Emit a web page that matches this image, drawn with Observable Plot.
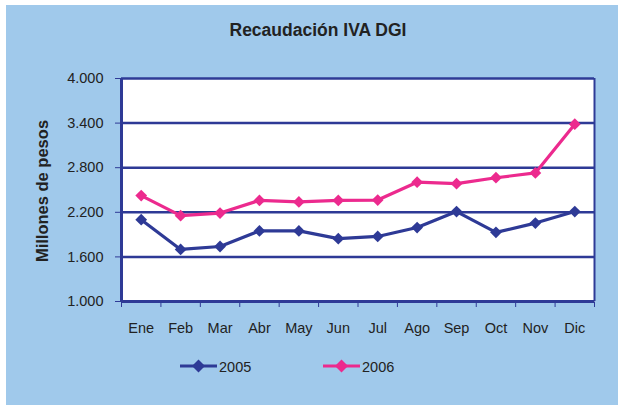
<!DOCTYPE html>
<html>
<head>
<meta charset="utf-8">
<script src="https://cdn.jsdelivr.net/npm/d3@7"></script>
<script src="https://cdn.jsdelivr.net/npm/@observablehq/plot@0.6"></script>
<style>
  html, body { margin: 0; padding: 0; background: #fff; }
  #wrap { position: relative; width: 618px; height: 405px; background: #fff; overflow: hidden; font-family: "Liberation Sans", Arial, sans-serif; }
  #bg { position: absolute; left: 6px; top: 5px; right: 0; bottom: 0; background: #A0C9EB; }
  #title { position: absolute; left: 0; width: 636px; top: 20px; text-align: center; font-weight: bold; font-size: 17.5px; color: #222; }
  #ylabel { position: absolute; left: 42px; top: 191px; transform: translate(-50%, -50%) rotate(-90deg); white-space: nowrap; font-weight: bold; font-size: 16.5px; color: #222; }
  #chart { position: absolute; left: 0; top: 0; }
  #chart svg text { fill: #222; }
  #legend { position: absolute; top: 356px; left: 0; width: 618px; height: 22px; font-size: 14.5px; color: #222; }
  .item { position: absolute; top: 0; display: flex; align-items: center; }
  .item span { margin-left: 2px; }
</style>
</head>
<body>
<div id="wrap">
  <div id="bg"></div>
  <div id="title">Recaudación IVA DGI</div>
  <div id="chart"></div>
  <div id="ylabel">Millones de pesos</div>
  <div id="legend"></div>
</div>
<script>
const months = ["Ene","Feb","Mar","Abr","May","Jun","Jul","Ago","Sep","Oct","Nov","Dic"];
const series2005 = [2100, 1700, 1740, 1950, 1950, 1845, 1875, 1995, 2210, 1930, 2055, 2210];
const series2006 = [2425, 2155, 2190, 2360, 2340, 2360, 2365, 2605, 2585, 2665, 2730, 3385];
const yTicks = [1000, 1600, 2200, 2800, 3400, 4000];
const seriesNames = ["2005", "2006"];
const colors = ["#2E3A96", "#EC2A8E"];

const data = [];
months.forEach((m, i) => {
  data.push({i, month: m, serie: "2005", value: series2005[i]});
  data.push({i, month: m, serie: "2006", value: series2006[i]});
});
const boundaries = d3.range(months.length + 1).map(k => k - 0.5);
const fmt = d3.formatLocale({decimal: ",", thousands: ".", grouping: [3], currency: ["", ""]}).format(",");
const navy = colors[0];

const chart = Plot.plot({
  width: 618,
  height: 345,
  marginTop: 78,
  marginBottom: 44,
  marginLeft: 121,
  marginRight: 24,
  style: {background: "transparent", color: navy, fontFamily: "'Liberation Sans', Arial, sans-serif", fontSize: "14.5px"},
  x: {type: "linear", domain: [-0.5, 11.5], ticks: boundaries, tickFormat: () => "", tickSize: 6, label: null},
  y: {domain: [1000, 4000], ticks: yTicks, tickFormat: fmt, tickSize: 6, tickPadding: 12, label: null},
  color: {domain: seriesNames, range: colors},
  marks: [
    Plot.frame({fill: "white", stroke: "#8088C0", strokeWidth: 1}),
    Plot.ruleY(yTicks.slice(1), {stroke: navy, strokeWidth: 2.5}),
    Plot.ruleX([11.5], {stroke: navy, strokeWidth: 2}),
    Plot.ruleX([-0.5], {stroke: navy, strokeWidth: 3}),
    Plot.ruleY([1000], {stroke: navy, strokeWidth: 3}),
    Plot.text(months, {x: (d, i) => i, y: () => 1000, text: d => d, dy: 27, fontSize: 14.5}),
    Plot.line(data, {x: "i", y: "value", z: "serie", stroke: "serie", strokeWidth: 3.2}),
    Plot.dot(data, {x: "i", y: "value", fill: "serie", symbol: "diamond2", r: 5.3})
  ]
});
document.getElementById("chart").appendChild(chart);

// Legend
const legend = document.getElementById("legend");
const legendX = [180, 323];
seriesNames.forEach((name, k) => {
  const item = document.createElement("div");
  item.className = "item";
  item.style.left = legendX[k] + "px";
  item.innerHTML = `<svg width="37" height="22"><line x1="0" y1="10" x2="37" y2="10" stroke="${colors[k]}" stroke-width="3"/><path d="M18.5,3.5 L25,10 L18.5,16.5 L12,10 Z" fill="${colors[k]}"/></svg><span>${name}</span>`;
  legend.appendChild(item);
});
</script>
</body>
</html>
